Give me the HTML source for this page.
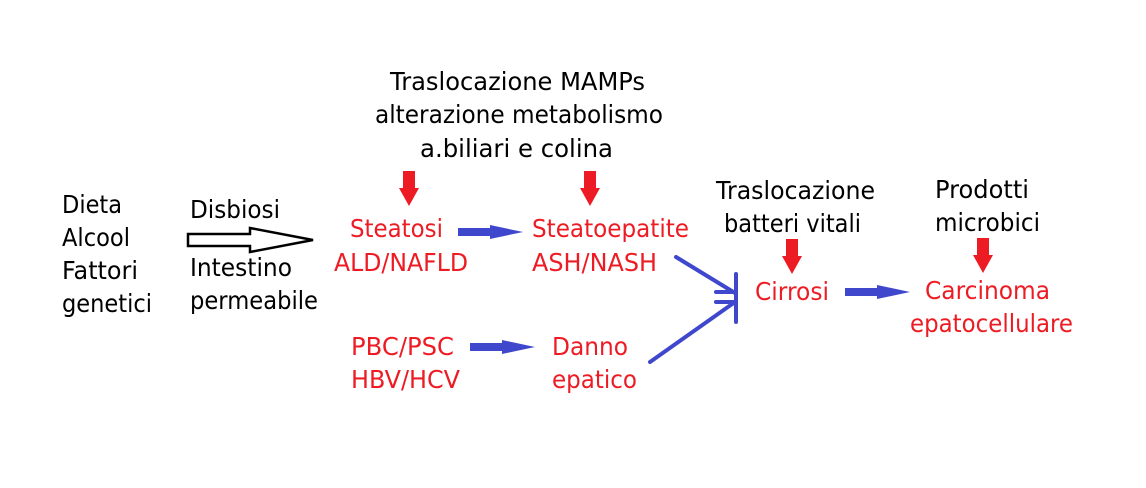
<!DOCTYPE html>
<html><head><meta charset="utf-8"><style>
html,body{margin:0;padding:0;background:#fff;}
svg{display:block;}
text{font-family:"DejaVu Sans","Liberation Sans",sans-serif;font-size:25px;}
.k{fill:#000}.r{fill:#ed1c24}
</style></head><body>
<svg width="1146" height="488" viewBox="0 0 1146 488">
<g class="k">
<text x="390" y="90" textLength="255" lengthAdjust="spacingAndGlyphs">Traslocazione MAMPs</text>
<text x="375" y="123" textLength="288" lengthAdjust="spacingAndGlyphs">alterazione metabolismo</text>
<text x="420" y="157" textLength="193" lengthAdjust="spacingAndGlyphs">a.biliari e colina</text>
<text x="62" y="213" textLength="60" lengthAdjust="spacingAndGlyphs">Dieta</text>
<text x="62" y="246" textLength="68" lengthAdjust="spacingAndGlyphs">Alcool</text>
<text x="62" y="279" textLength="76" lengthAdjust="spacingAndGlyphs">Fattori</text>
<text x="62" y="312" textLength="90" lengthAdjust="spacingAndGlyphs">genetici</text>
<text x="190" y="218" textLength="90" lengthAdjust="spacingAndGlyphs">Disbiosi</text>
<text x="190" y="276" textLength="102" lengthAdjust="spacingAndGlyphs">Intestino</text>
<text x="190" y="309" textLength="128" lengthAdjust="spacingAndGlyphs">permeabile</text>
<text x="716" y="199" textLength="159" lengthAdjust="spacingAndGlyphs">Traslocazione</text>
<text x="724" y="232" textLength="137" lengthAdjust="spacingAndGlyphs">batteri vitali</text>
<text x="935" y="198" textLength="94" lengthAdjust="spacingAndGlyphs">Prodotti</text>
<text x="935" y="231" textLength="105" lengthAdjust="spacingAndGlyphs">microbici</text>
</g>
<g class="r">
<text x="350" y="237" textLength="93" lengthAdjust="spacingAndGlyphs">Steatosi</text>
<text x="334" y="271" textLength="134" lengthAdjust="spacingAndGlyphs">ALD/NAFLD</text>
<text x="532" y="237" textLength="157" lengthAdjust="spacingAndGlyphs">Steatoepatite</text>
<text x="532" y="271" textLength="125" lengthAdjust="spacingAndGlyphs">ASH/NASH</text>
<text x="351" y="355" textLength="103" lengthAdjust="spacingAndGlyphs">PBC/PSC</text>
<text x="351" y="388" textLength="109" lengthAdjust="spacingAndGlyphs">HBV/HCV</text>
<text x="552" y="355" textLength="76" lengthAdjust="spacingAndGlyphs">Danno</text>
<text x="552" y="388" textLength="85" lengthAdjust="spacingAndGlyphs">epatico</text>
<text x="755" y="300" textLength="74" lengthAdjust="spacingAndGlyphs">Cirrosi</text>
<text x="925" y="299" textLength="125" lengthAdjust="spacingAndGlyphs">Carcinoma</text>
<text x="910" y="332" textLength="163" lengthAdjust="spacingAndGlyphs">epatocellulare</text>
</g>
<g fill="#ed1c24">
<polygon points="403,171 415,171 415,188 419,188 409,206 399,188 403,188"/>
<polygon points="584,171 596,171 596,188 600,188 590,206 580,188 584,188"/>
<polygon points="786,239 798,239 798,256 802,256 792,274 782,256 786,256"/>
<polygon points="977,238 989,238 989,255 993,255 983,273 973,255 977,255"/>
</g>
<polygon points="188,234 250,234 250,228 313,240 250,252 250,246 188,246" fill="#fff" stroke="#000" stroke-width="2.5"/>
<g fill="#3f48cc">
<polygon points="458,228 490,228 490,225 523,232 490,239 490,236 458,236"/>
<polygon points="470,343 502,343 502,340 535,347 502,354 502,351 470,351"/>
<polygon points="845,288 877,288 877,285 910,292 877,299 877,296 845,296"/>
</g>
<g stroke="#3f48cc" stroke-width="4" fill="none" stroke-linecap="round">
<line x1="676" y1="257" x2="735" y2="293"/>
<line x1="650" y1="362" x2="735" y2="302"/>
<line x1="736" y1="274" x2="736" y2="322"/>
<line x1="716" y1="292" x2="736" y2="292"/>
<line x1="716" y1="302" x2="736" y2="302"/>
</g>
</svg>
</body></html>
